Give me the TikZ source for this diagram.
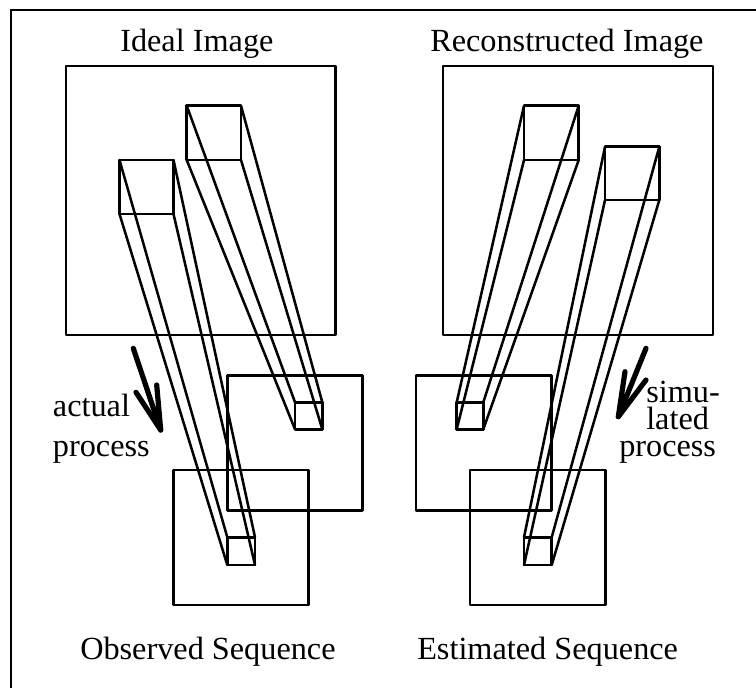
\documentclass[tikz,border=0pt]{standalone}
\usepackage{fontspec}
\setmainfont{Liberation Serif}
\tikzset{
  x=0.75pt,y=-0.75pt,
  ln/.style={line width=1.9pt,line join=round,line cap=round},
  fat/.style={line width=3.9pt,line join=round,line cap=round},
  lab/.style={inner sep=0pt,anchor=base west,font=\fontsize{24.2pt}{27pt}\selectfont},
}
\newcommand{\rct}[2]{\draw[ln] (#1) rectangle (#2);}
\newcommand{\barbox}[8]{%
  \draw[ln] (#1,#3) rectangle (#2,#4);
  \draw[ln] (#5,#7) rectangle (#6,#8);
  \draw[ln] (#1,#3) -- (#5,#7);
  \draw[ln] (#2,#3) -- (#6,#7);
  \draw[ln] (#1,#4) -- (#5,#8);
  \draw[ln] (#2,#4) -- (#6,#8);
}
\begin{document}
\begin{tikzpicture}
\useasboundingbox (0,0) rectangle (756,688);
\fill[white] (0,0) rectangle (756,688);
\draw[ln] (11,10) -- (756,10);
\draw[ln] (11,10) -- (11,688);
\rct{66,66}{335.7,335}
\rct{443,66}{713,335}
\rct{227.3,375.3}{362.7,510.7}
\rct{173.3,470}{308.7,605}
\rct{416,375.3}{551.7,510.7}
\rct{470,470}{605.3,605}
\barbox{119.5}{173.5}{160}{214}{227.3}{255}{537.3}{565}
\barbox{186.7}{241}{105.7}{160}{295}{322.3}{402.3}{429.3}
\barbox{524}{578.7}{105.7}{160}{456.7}{483.3}{402.3}{429.3}
\barbox{605}{659.3}{146.7}{200}{524}{551.7}{537.3}{565}
\draw[fat] (133.3,348.3) -- (160.7,430) -- (156.7,385);
\draw[fat] (136,392.3) -- (160.7,430);
\draw[fat] (646,348.3) -- (618.3,416.7) -- (625,371.7);
\draw[fat] (646,380) -- (618.3,416.7);
\node[lab] (t1) at (120,52) {Ideal Image};
\node[lab] (t2) at (430,52) {Reconstructed Image};
\node[lab] (t3) at (80,659) {Observed Sequence};
\node[lab] (t4) at (417,659) {Estimated Sequence};
\node[lab] (a1) at (52.7,416) {actual};
\node[lab] (a2) at (52.7,456) {process};
\node[lab] (s1) at (646,402) {simu-};
\node[lab] (s2) at (646,429) {lated};
\node[lab] (s3) at (619,456) {process};
\end{tikzpicture}
\end{document}
